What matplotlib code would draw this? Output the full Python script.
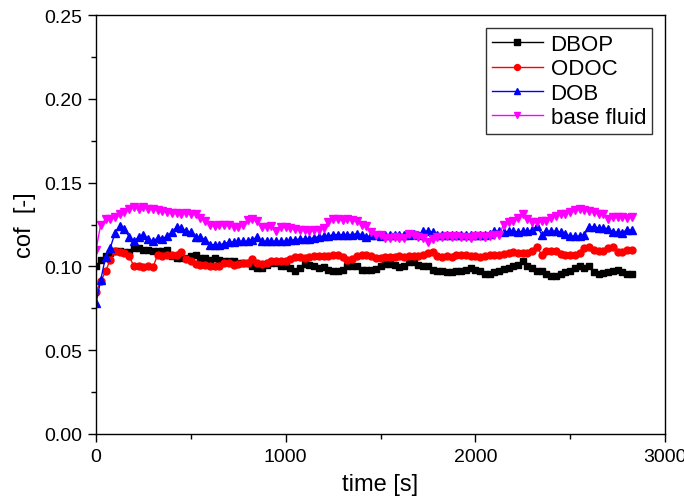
import matplotlib
matplotlib.use("Agg")
import matplotlib.pyplot as plt
from matplotlib.ticker import MultipleLocator

plt.rcParams['font.family'] = ['Liberation Sans', 'DejaVu Sans']

time_s = list(range(0, 2826, 25))

dbop = [
    0.100, 0.104, 0.106, 0.108, 0.109, 0.109, 0.1085, 0.1085, 0.111, 0.111,
    0.110, 0.110, 0.109, 0.109, 0.109, 0.110, 0.106, 0.105, 0.105, 0.105,
    0.106, 0.107, 0.105, 0.105, 0.104, 0.105, 0.104, 0.103, 0.103, 0.103,
    0.102, 0.102, 0.102, 0.100, 0.099, 0.099, 0.101, 0.102, 0.102, 0.100,
    0.100, 0.099, 0.097, 0.099, 0.1015, 0.101, 0.100, 0.099, 0.0995, 0.098,
    0.097, 0.097, 0.098, 0.100, 0.100, 0.100, 0.098, 0.098, 0.098, 0.0985,
    0.100, 0.1015, 0.1015, 0.101, 0.0995, 0.1005, 0.1025, 0.1025, 0.101, 0.100,
    0.100, 0.098, 0.097, 0.097, 0.0965, 0.0967, 0.097, 0.097, 0.098, 0.099,
    0.098, 0.097, 0.0955, 0.0955, 0.0965, 0.097, 0.0985, 0.099, 0.100, 0.101,
    0.103, 0.1005, 0.099, 0.097, 0.097, 0.0955, 0.094, 0.0945, 0.0955, 0.0965,
    0.097, 0.099, 0.100, 0.099, 0.100, 0.0965, 0.0955, 0.096, 0.0965, 0.097,
    0.098, 0.0965, 0.0955, 0.0955,
]

odoc = [
    0.085, 0.091, 0.097, 0.104, 0.109, 0.1085, 0.108, 0.106, 0.100, 0.100,
    0.0995, 0.100, 0.0995, 0.107, 0.1065, 0.107, 0.107, 0.107, 0.1085, 0.1045,
    0.103, 0.1015, 0.101, 0.101, 0.100, 0.100, 0.1005, 0.102, 0.102, 0.101,
    0.1015, 0.102, 0.102, 0.1045, 0.102, 0.1015, 0.102, 0.103, 0.1035, 0.103,
    0.1035, 0.1045, 0.1055, 0.1055, 0.105, 0.1055, 0.106, 0.106, 0.106, 0.106,
    0.107, 0.107, 0.1055, 0.104, 0.1045, 0.1065, 0.107, 0.107, 0.106, 0.105,
    0.105, 0.1055, 0.1055, 0.1055, 0.106, 0.1055, 0.1065, 0.106, 0.1065, 0.107,
    0.108, 0.1085, 0.106, 0.1055, 0.106, 0.1058, 0.107, 0.107, 0.107, 0.106,
    0.106, 0.1055, 0.106, 0.107, 0.107, 0.107, 0.1075, 0.108, 0.1085, 0.108,
    0.108, 0.108, 0.109, 0.1115, 0.107, 0.109, 0.109, 0.109, 0.1075, 0.107,
    0.107, 0.107, 0.108, 0.111, 0.1115, 0.110, 0.109, 0.109, 0.111, 0.1115,
    0.1085, 0.1085, 0.110, 0.110,
]

dob = [
    0.078, 0.092, 0.1055, 0.111, 0.120, 0.124, 0.1225, 0.1175, 0.115, 0.1175,
    0.119, 0.1165, 0.115, 0.117, 0.1165, 0.118, 0.1205, 0.1235, 0.123, 0.121,
    0.1205, 0.1175, 0.1175, 0.116, 0.113, 0.113, 0.113, 0.1135, 0.1145, 0.1145,
    0.115, 0.115, 0.115, 0.116, 0.1175, 0.115, 0.115, 0.115, 0.115, 0.115,
    0.115, 0.1155, 0.116, 0.1163, 0.1163, 0.1165, 0.117, 0.1178, 0.118, 0.118,
    0.119, 0.119, 0.119, 0.119, 0.119, 0.1195, 0.119, 0.1175, 0.1185, 0.1185,
    0.118, 0.1185, 0.1185, 0.119, 0.119, 0.119, 0.119, 0.1195, 0.119, 0.121,
    0.121, 0.1205, 0.119, 0.119, 0.1185, 0.119, 0.119, 0.119, 0.1185, 0.1185,
    0.119, 0.119, 0.119, 0.1195, 0.121, 0.121, 0.1205, 0.121, 0.121, 0.1205,
    0.121, 0.121, 0.1215, 0.124, 0.119, 0.121, 0.121, 0.121, 0.1205, 0.1195,
    0.118, 0.118, 0.118, 0.119, 0.1235, 0.1235, 0.123, 0.123, 0.1225, 0.1205,
    0.1205, 0.120, 0.122, 0.1215,
]

base_fluid = [
    0.110, 0.125, 0.128, 0.128, 0.1295, 0.131, 0.1325, 0.134, 0.1355, 0.1345,
    0.1355, 0.134, 0.1345, 0.1335, 0.133, 0.1325, 0.132, 0.132, 0.1315, 0.132,
    0.131, 0.131, 0.129, 0.127, 0.125, 0.124, 0.1245, 0.125, 0.1245, 0.1235,
    0.1235, 0.1245, 0.1275, 0.128, 0.127, 0.1235, 0.1235, 0.124, 0.121, 0.1235,
    0.1235, 0.123, 0.1225, 0.1215, 0.1215, 0.121, 0.1215, 0.122, 0.123, 0.1265,
    0.128, 0.128, 0.1275, 0.128, 0.1275, 0.127, 0.125, 0.124, 0.1205, 0.119,
    0.1185, 0.117, 0.117, 0.1175, 0.117, 0.117, 0.1195, 0.1185, 0.1175, 0.117,
    0.1145, 0.1165, 0.1175, 0.1175, 0.118, 0.1175, 0.118, 0.1175, 0.1175, 0.117,
    0.118, 0.118, 0.1175, 0.118, 0.1185, 0.119, 0.125, 0.1265, 0.127, 0.129,
    0.131, 0.128, 0.1265, 0.1265, 0.127, 0.127, 0.129, 0.130, 0.1315, 0.1315,
    0.1325, 0.1335, 0.1342, 0.1335, 0.133, 0.1325, 0.131, 0.131, 0.128, 0.1295,
    0.1295, 0.1295, 0.129, 0.1295,
]

series = [
    ("DBOP", dbop, "black", "s", 4.6),
    ("ODOC", odoc, "red", "o", 5.0),
    ("DOB", dob, "blue", "^", 5.4),
    ("base fluid", base_fluid, "magenta", "v", 5.4),
]

fig = plt.figure(figsize=(6.84, 5.02), dpi=100)
ax = fig.add_axes([0.1404, 0.1335, 0.8318, 0.8345])

for name, vals, color, marker, ms in series:
    ax.plot(time_s, vals, color=color, marker=marker, markersize=ms,
            linewidth=1.0, label=name)

ax.set_xlim(0, 3000)
ax.set_ylim(0, 0.25)
ax.xaxis.set_major_locator(MultipleLocator(1000))
ax.xaxis.set_minor_locator(MultipleLocator(500))
ax.yaxis.set_major_locator(MultipleLocator(0.05))
ax.yaxis.set_minor_locator(MultipleLocator(0.025))
ax.yaxis.set_major_formatter(matplotlib.ticker.FormatStrFormatter('%.2f'))

ax.tick_params(which='major', direction='out', length=6, width=1.0,
               labelsize=14, pad=4)
ax.tick_params(which='minor', direction='out', length=3.5, width=1.0)
for s in ax.spines.values():
    s.set_linewidth(1.0)

ax.set_xlabel("time [s]", fontsize=17, labelpad=6)
ax.set_ylabel("cof  [-]", fontsize=17, labelpad=6)

leg = ax.legend(loc='upper right', fontsize=16, frameon=True, fancybox=False,
                edgecolor='black', handlelength=2.3, borderpad=0.25,
                labelspacing=0.15, handletextpad=0.35, borderaxespad=0.6,
                markerscale=0.85)
leg.get_frame().set_linewidth(1.0)

fig.savefig("out.png", dpi=100)
